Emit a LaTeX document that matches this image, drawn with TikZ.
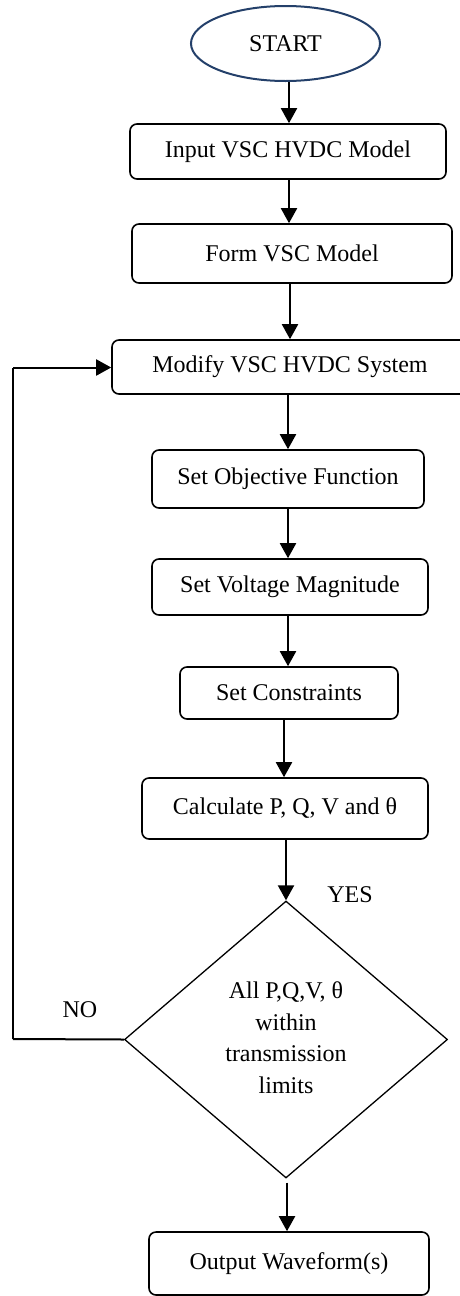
\documentclass[tikz,border=0pt]{standalone}
\usepackage{fontspec}
\setmainfont{Liberation Serif}
\usetikzlibrary{arrows.meta,shapes.geometric}
\definecolor{startblue}{RGB}{36,64,106}
\tikzset{
  px/.style={x=1pt,y=-1pt},
  box/.style={draw=black,line width=1.6pt,rounded corners=7pt,align=center,inner sep=0pt},
  conn/.style={line width=2pt,-{Triangle[width=16pt,length=15pt]}},
  lbl/.style={font=\fontsize{24}{28}\selectfont,inner sep=0pt},
}
\begin{document}
\begin{tikzpicture}[px,font=\fontsize{24}{32}\selectfont]
\useasboundingbox (0,0) rectangle (460,1296);
\node[draw=startblue,line width=2pt,ellipse,minimum width=189pt,minimum height=75pt,inner sep=0pt] (start) at (285.5,43.5) {START};
\node[box,minimum width=316pt,minimum height=55pt] (input) at (288,151.5) {Input VSC HVDC Model};
\node[box,minimum width=320pt,minimum height=59pt] (form) at (292,253.5) {Form VSC Model};
\node[box,minimum width=356pt,minimum height=54pt] (modify) at (290,367) {Modify VSC HVDC System};
\node[box,minimum width=272pt,minimum height=58pt] (obj) at (288,479) {Set Objective Function};
\node[box,minimum width=276pt,minimum height=56pt] (volt) at (290,587) {Set Voltage Magnitude};
\node[box,minimum width=218pt,minimum height=52pt] (cons) at (289,693) {Set Constraints};
\node[box,minimum width=286pt,minimum height=61pt] (calc) at (285,808.5) {Calculate P, Q, V and θ};
\node[draw=black,line width=1.3pt,diamond,aspect=1.17,minimum width=323pt,minimum height=277pt,inner sep=0pt,align=center] (dec) at (286,1039.5) {};
\node[align=center,inner sep=0pt,font=\fontsize{24}{31.5}\selectfont] (dectext) at (286,1037.5) {All P,Q,V, θ\\within\\transmission\\limits};
\node[box,minimum width=280pt,minimum height=63pt] (out) at (289,1263.5) {Output Waveform(s)};
\node[lbl] (yes) at (350,895) {YES};
\node[lbl] (no) at (80,1010) {NO};
\coordinate (c1) at (13,1039);
\coordinate (c2) at (13,367.5);
\draw[conn] (start.south -| 289,0) -- (input.north -| 289,0);
\draw[conn] (input.south -| 289,0) -- (form.north -| 289,0);
\draw[conn] (form.south -| 290,0) -- (modify.north -| 290,0);
\draw[conn] (modify.south -| 288,0) -- (obj.north -| 288,0);
\draw[conn] (obj.south -| 288,0) -- (volt.north -| 288,0);
\draw[conn] (volt.south -| 288,0) -- (cons.north -| 288,0);
\draw[conn] (cons.south -| 284,0) -- (calc.north -| 284,0);
\draw[conn] (calc.south -| 286,0) -- (dec.north);
\draw[conn] ([yshift=-4pt]dec.south -| 287,0) -- (out.north -| 287,0);
\draw[line width=2pt] (dec.west) -- (c1);
\draw[line width=2pt] (c1) -- (c2);
\draw[conn] (c2) -- (modify.west |- c2);
\end{tikzpicture}
\end{document}
